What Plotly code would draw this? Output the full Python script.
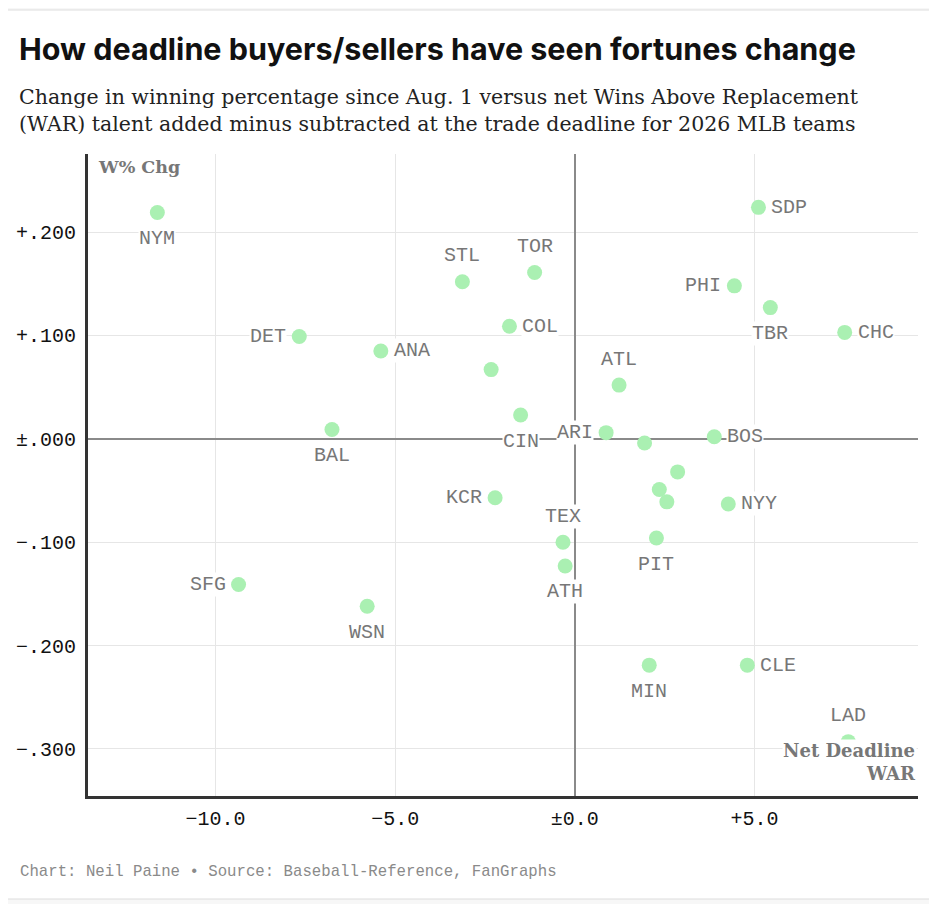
import plotly.graph_objects as go

# The page body has an 8px margin; lay out the figure so that it lands on the
# 937x904 window at the reference positions.
OFF = 8
W, H = 937 - OFF, 904 - OFF
ML, MR, MT, MB = 88 - OFF, 19, 154 - OFF, 108

teams = ["NYM", "DET", "ANA", "BAL", "STL", "TOR", "COL", "", "CIN", "ARI",
         "ATL", "", "BOS", "", "SDP", "PHI", "TBR", "CHC", "KCR", "",
         "", "NYY", "TEX", "ATH", "PIT", "MIN", "CLE", "LAD", "SFG", "WSN"]
net_war = [-11.62, -7.67, -5.40, -6.76, -3.13, -1.12, -1.82, -2.33, -1.51, 0.87,
           1.23, 1.94, 3.88, 2.86, 5.11, 4.44, 5.44, 7.51, -2.22, 2.35,
           2.56, 4.27, -0.33, -0.27, 2.27, 2.07, 4.80, 7.61, -9.36, -5.78]
wpct_chg = [0.219, 0.099, 0.085, 0.009, 0.152, 0.161, 0.109, 0.067, 0.023, 0.006,
            0.052, -0.004, 0.002, -0.032, 0.224, 0.148, 0.127, 0.103, -0.057, -0.049,
            -0.061, -0.063, -0.100, -0.123, -0.096, -0.219, -0.219, -0.293, -0.141, -0.162]
label_side = ["below", "left", "right", "below", "above", "above", "right", "", "below", "left",
              "above", "", "right", "", "right", "left", "below", "right", "left", "",
              "", "right", "above", "below", "below", "below", "right", "above", "left", "below"]

x_ticks = [-10, -5, 0, 5]
x_tick_text = ["−10.0", "−5.0", "±0.0", "+5.0"]
y_ticks = [0.2, 0.1, 0.0, -0.1, -0.2, -0.3]
y_tick_text = ["+.200", "+.100", "±.000", "−.100", "−.200", "−.300"]

MONO = "Liberation Mono"
SERIF = "DejaVu Serif"

fig = go.Figure()
fig.add_trace(go.Scatter(
    x=net_war, y=wpct_chg, mode="markers",
    marker=dict(size=15, color="#aaf0b2", line=dict(width=0)),
    hovertext=teams, hoverinfo="text+x+y", showlegend=False,
))

annotations = []
for t, xv, yv, side in zip(teams, net_war, wpct_chg, label_side):
    if not t:
        continue
    a = dict(x=xv, y=yv, xref="x", yref="y", text=t, showarrow=False,
             font=dict(family=MONO, size=20, color="#777777"),
             bgcolor="white", borderpad=0)
    if side == "below":
        a.update(xanchor="center", yanchor="middle", yshift=-26)
    elif side == "above":
        a.update(xanchor="center", yanchor="middle", yshift=26)
    elif side == "left":
        a.update(xanchor="right", yanchor="middle", xshift=-12)
    else:
        a.update(xanchor="left", yanchor="middle", xshift=12)
    annotations.append(a)

pw = W - ML - MR
ph = H - MT - MB


def px(xp):
    return (xp - OFF - ML) / pw


def py(yp):
    return 1 - (yp - OFF - MT) / ph


annotations += [
    dict(xref="paper", yref="paper", x=px(17), y=py(48), xanchor="left", yanchor="middle",
         text="<b>How deadline buyers/sellers have seen fortunes change</b>", showarrow=False,
         font=dict(family="Inter", size=30.5, color="#111111")),
    dict(xref="paper", yref="paper", x=px(17), y=py(111), xanchor="left", yanchor="middle",
         align="left",
         text="Change in winning percentage since Aug. 1 versus net Wins Above Replacement<br>"
              "(WAR) talent added minus subtracted at the trade deadline for 2026 MLB teams",
         showarrow=False, font=dict(family=SERIF, size=20.5, color="#222222")),
    dict(xref="paper", yref="paper", x=px(96), y=py(167), xanchor="left", yanchor="middle",
         text="<b>W% Chg</b>", showarrow=False,
         font=dict(family=SERIF, size=17.5, color="#777777")),
    dict(xref="paper", yref="paper", x=px(917), y=py(762), xanchor="right", yanchor="middle",
         align="right", text="<b>Net Deadline<br>WAR</b>", showarrow=False,
         bgcolor="white", borderpad=0,
         font=dict(family=SERIF, size=18, color="#777777")),
    dict(xref="paper", yref="paper", x=px(18), y=py(872), xanchor="left", yanchor="middle",
         text="Chart: Neil Paine • Source: Baseball-Reference, FanGraphs", showarrow=False,
         font=dict(family=MONO, size=15.7, color="#8a8a8a")),
]

fig.update_layout(
    width=W, height=H,
    margin=dict(l=ML, r=MR, t=MT, b=MB, autoexpand=False),
    paper_bgcolor="#f7f7f7", plot_bgcolor="white",
    annotations=annotations,
    shapes=[dict(type="rect", xref="paper", yref="paper", layer="below",
                 x0=px(3), x1=px(933), y0=py(899), y1=py(10),
                 fillcolor="white", line=dict(color="#dddddd", width=1))],
    xaxis=dict(range=[-13.55, 9.55], tickvals=x_ticks, ticktext=x_tick_text,
               showgrid=True, gridcolor="#e6e6e6", gridwidth=1,
               zeroline=True, zerolinecolor="#8a8a8a", zerolinewidth=2,
               showline=True, linecolor="#333333", linewidth=3, mirror=False,
               ticks="", ticklabelstandoff=2,
               tickfont=dict(family=MONO, size=20, color="#111111"), fixedrange=True),
    yaxis=dict(range=[-0.3456, 0.2756], tickvals=y_ticks, ticktext=y_tick_text,
               showgrid=True, gridcolor="#e6e6e6", gridwidth=1,
               zeroline=True, zerolinecolor="#8a8a8a", zerolinewidth=2,
               showline=True, linecolor="#333333", linewidth=3, mirror=False,
               ticks="", ticklabelstandoff=5,
               tickfont=dict(family=MONO, size=20, color="#111111"), fixedrange=True),
)

fig.write_html("out.html")
